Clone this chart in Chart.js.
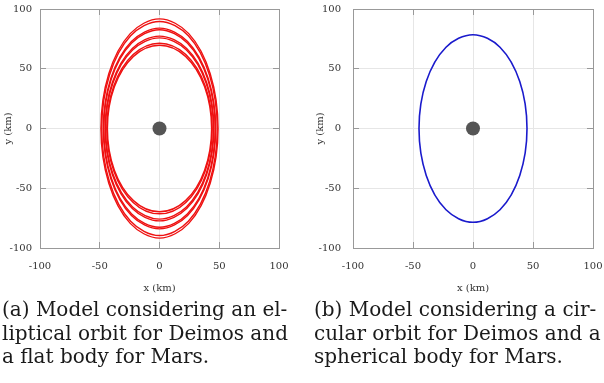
<!DOCTYPE html>
<html>
<head>
<meta charset="utf-8">
<script src="https://cdn.jsdelivr.net/npm/chart.js@4/dist/chart.umd.min.js"></script>
<style>
  html, body { margin: 0; padding: 0; background: #fff; width: 604px; height: 383px; overflow: hidden; }
  canvas { position: absolute; top: 0; }
  #cLeft { left: 0; }
  #cRight { left: 300px; }
  .cap { position: absolute; top: 298px; font-family: "DejaVu Serif"; font-size: 20px; line-height: 23.5px; color: #1a1a1a; white-space: nowrap; }
  #capA { left: 2px; }
  #capB { left: 314px; }
</style>
</head>
<body>
<canvas id="cLeft" width="300" height="300"></canvas>
<canvas id="cRight" width="304" height="300"></canvas>
<div class="cap" id="capA">(a) Model considering an el-<br>liptical orbit for Deimos and<br>a flat body for Mars.</div>
<div class="cap" id="capB">(b) Model considering a cir-<br>cular orbit for Deimos and a<br>spherical body for Mars.</div>
<script>
// ---- Data (km) ----
const axisTicks = [-100, -50, 0, 50, 100];
const axisTitleX = "x (km)";
const axisTitleY = "y (km)";

// Panel (a): successive loops of the elliptical-orbit model (points every 30°)
const loopA1X = [49, 42.43, 24.5, 0, -24.5, -42.43, -49, -42.43, -24.5, 0, 24.5, 42.43];
const loopA1Y = [0, 45.85, 79.41, 91.7, 79.41, 45.85, 0, -45.85, -79.41, -91.7, -79.41, -45.85];
const loopA2X = [48.3, 41.83, 24.15, 0, -24.15, -41.83, -48.3, -41.83, -24.15, 0, 24.15, 41.83];
const loopA2Y = [0, 44.8, 77.59, 89.6, 77.59, 44.8, 0, -44.8, -77.59, -89.6, -77.59, -44.8];
const loopA3X = [47, 40.7, 23.5, 0, -23.5, -40.7, -47, -40.7, -23.5, 0, 23.5, 40.7];
const loopA3Y = [0, 42, 72.74, 84, 72.74, 42, 0, -42, -72.74, -84, -72.74, -42];
const loopA4X = [46.6, 40.36, 23.3, 0, -23.3, -40.36, -46.6, -40.36, -23.3, 0, 23.3, 40.36];
const loopA4Y = [0, 41.3, 71.53, 82.6, 71.53, 41.3, 0, -41.3, -71.53, -82.6, -71.53, -41.3];
const loopA5X = [45.5, 39.4, 22.75, 0, -22.75, -39.4, -45.5, -39.4, -22.75, 0, 22.75, 39.4];
const loopA5Y = [0, 38.65, 66.94, 77.3, 66.94, 38.65, 0, -38.65, -66.94, -77.3, -66.94, -38.65];
const loopA6X = [45.1, 39.06, 22.55, 0, -22.55, -39.06, -45.1, -39.06, -22.55, 0, 22.55, 39.06];
const loopA6Y = [0, 37.9, 65.64, 75.8, 65.64, 37.9, 0, -37.9, -65.64, -75.8, -65.64, -37.9];
const loopA7X = [44.1, 38.19, 22.05, 0, -22.05, -38.19, -44.1, -38.19, -22.05, 0, 22.05, 38.19];
const loopA7Y = [0, 35.7, 61.83, 71.4, 61.83, 35.7, 0, -35.7, -61.83, -71.4, -61.83, -35.7];
const loopA8X = [43.6, 37.76, 21.8, 0, -21.8, -37.76, -43.6, -37.76, -21.8, 0, 21.8, 37.76];
const loopA8Y = [0, 34.85, 60.36, 69.7, 60.36, 34.85, 0, -34.85, -60.36, -69.7, -60.36, -34.85];

// Panel (b): circular-orbit model, single closed loop
const loopBX = [45, 38.97, 22.5, 0, -22.5, -38.97, -45, -38.97, -22.5, 0, 22.5, 38.97];
const loopBY = [0, 39.25, 67.98, 78.5, 67.98, 39.25, 0, -39.25, -67.98, -78.5, -67.98, -39.25];

// Mars at the origin
const marsX = [0];
const marsY = [0];

// ---- Build Chart.js datasets ----
function toPoints(xs, ys) { return xs.map((x, i) => ({ x: x, y: ys[i] })); }
function closedLoop(xs, ys) {
  const p = toPoints(xs, ys);
  return [p[p.length - 1], ...p, p[0], p[1]];
}
function loopDataset(xs, ys, color, width) {
  const data = closedLoop(xs, ys);
  const n = data.length;
  return {
    data: data,
    showLine: true,
    borderColor: color,
    borderWidth: width,
    pointRadius: 0,
    tension: 0.35,
    fill: false,
    segment: {
      borderColor: ctx => (ctx.p0DataIndex === 0 || ctx.p1DataIndex === n - 1) ? 'rgba(0,0,0,0)' : color
    }
  };
}
function marsDataset() {
  return {
    data: toPoints(marsX, marsY),
    showLine: false,
    pointRadius: 7,
    pointHoverRadius: 7,
    pointBackgroundColor: '#555555',
    pointBorderColor: '#555555',
    pointBorderWidth: 0
  };
}

Chart.defaults.font.family = '"DejaVu Serif"';
Chart.defaults.font.size = 10;
Chart.defaults.color = '#333';

const TICK_IN = -6;
function makeScales(yLabelPad, yTitlePad, yWidth) {
  const tickCb = v => (axisTicks.includes(v) ? String(v) : '');
  const common = { type: 'linear', min: -100, max: 100,
    afterBuildTicks: s => { s.ticks = axisTicks.map(v => ({ value: v })); } };
  const grid = { color: '#e6e6e6', lineWidth: 1, tickLength: TICK_IN, tickColor: '#999', tickWidth: 1 };
  const border = { display: true, color: '#999', width: 1 };
  const zeroPad = s => { s.paddingTop = 0; s.paddingBottom = 0; s.paddingLeft = 0; s.paddingRight = 0; };
  return {
    x: Object.assign({}, common, {
      position: 'bottom', grid: grid, border: border,
      ticks: { padding: 18, callback: tickCb, maxRotation: 0, autoSkip: false },
      title: { display: true, text: axisTitleX, padding: { top: 0, bottom: 6 } },
      afterFit: s => { s.height = 52; zeroPad(s); }
    }),
    y: Object.assign({}, common, {
      position: 'left', grid: grid, border: border,
      ticks: { padding: yLabelPad, callback: tickCb, autoSkip: false },
      title: { display: true, text: axisTitleY, padding: { top: yTitlePad, bottom: 0 } },
      afterFit: s => { s.width = yWidth; zeroPad(s); }
    }),
    x2: Object.assign({}, common, {
      position: 'top', border: border,
      grid: { drawOnChartArea: false, tickLength: TICK_IN, tickColor: '#999', color: '#999' },
      ticks: { display: false },
      afterFit: s => { s.height = 0; zeroPad(s); }
    }),
    y2: Object.assign({}, common, {
      position: 'right', border: border,
      grid: { drawOnChartArea: false, tickLength: TICK_IN, tickColor: '#999', color: '#999' },
      ticks: { display: false },
      afterFit: s => { s.width = 0; zeroPad(s); }
    })
  };
}

const baseOptions = (padRight, scales) => ({
  responsive: false,
  animation: false,
  devicePixelRatio: 1,
  layout: { padding: { left: 0, right: padRight, top: 9, bottom: 0 } },
  plugins: { legend: { display: false }, tooltip: { enabled: false } },
  events: [],
  scales: scales
});

const red = '#ee1111';
new Chart(document.getElementById('cLeft'), {
  type: 'scatter',
  data: {
    datasets: [
      loopDataset(loopA1X, loopA1Y, red, 1.4),
      loopDataset(loopA2X, loopA2Y, red, 1.4),
      loopDataset(loopA3X, loopA3Y, red, 1.4),
      loopDataset(loopA4X, loopA4Y, red, 1.4),
      loopDataset(loopA5X, loopA5Y, red, 1.4),
      loopDataset(loopA6X, loopA6Y, red, 1.4),
      loopDataset(loopA7X, loopA7Y, red, 1.4),
      loopDataset(loopA8X, loopA8Y, red, 1.4),
      marsDataset()
    ]
  },
  options: baseOptions(21, makeScales(14, 2, 40))
});

new Chart(document.getElementById('cRight'), {
  type: 'scatter',
  data: {
    datasets: [
      loopDataset(loopBX, loopBY, '#1a1acc', 1.6),
      marsDataset()
    ]
  },
  options: baseOptions(11, makeScales(18, 14, 53))
});
</script>
</body>
</html>
